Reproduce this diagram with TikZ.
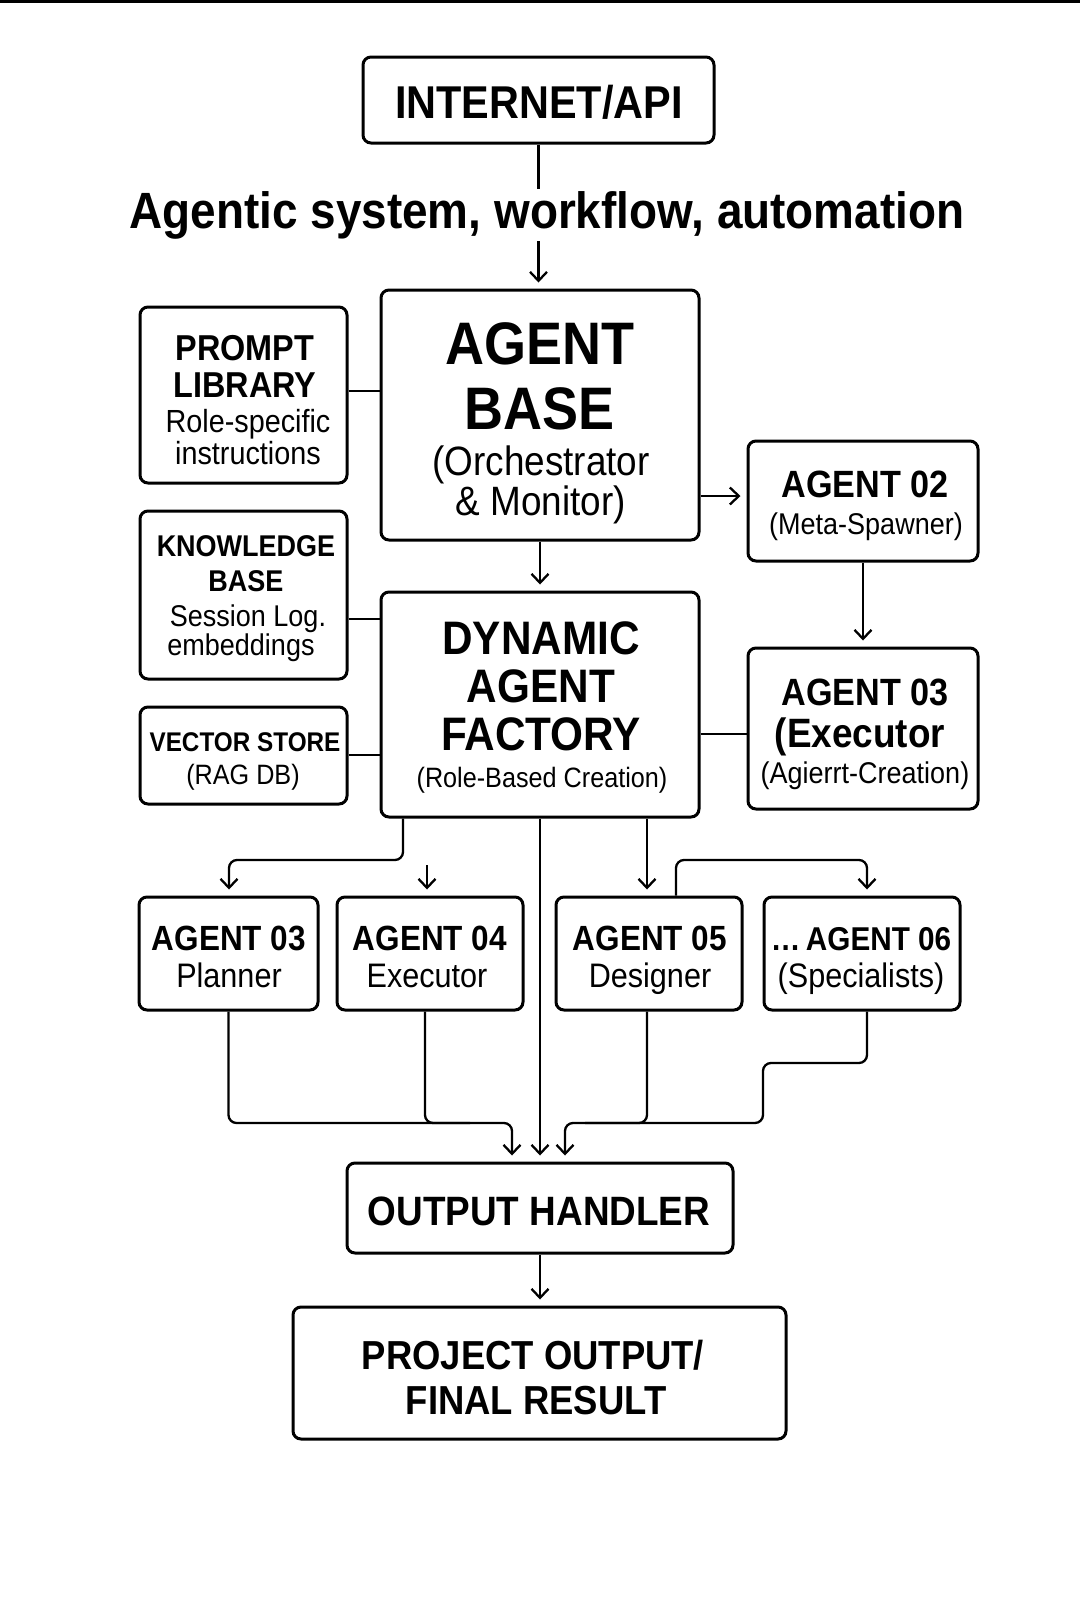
\documentclass[tikz,border=0pt]{standalone}
\usepackage{fontspec}
\setmainfont{Liberation Sans}[FakeStretch=0.9]
\usetikzlibrary{arrows.meta}

\tikzset{
  box/.style={draw, line width=3pt, rounded corners=8pt, inner sep=0pt},
  conn/.style={line width=2.3pt, rounded corners=8pt},
  arr/.style={conn, shorten >=6pt, -{Straight Barb[length=9pt,width=17pt]}},
  txt/.style={anchor=base, inner sep=0pt},
}
\newcommand{\fsz}[1]{\fontsize{#1}{#1}\selectfont}

\begin{document}
\begin{tikzpicture}[x=1pt,y=-1pt]
  \useasboundingbox (0,0) rectangle (1080,1610);
  \fill (0,0) rectangle (1080,3);

  % boxes
  \node[box, minimum width=351pt, minimum height=86pt] (inet) at (538.5,100) {};
  \node[box, minimum width=318pt, minimum height=250pt] (base) at (540,415) {};
  \node[box, minimum width=207pt, minimum height=176pt] (prompt) at (243.5,395) {};
  \node[box, minimum width=207pt, minimum height=168pt] (know) at (243.5,595) {};
  \node[box, minimum width=207pt, minimum height=97pt] (vec) at (243.5,755.5) {};
  \node[box, minimum width=318pt, minimum height=225pt] (fact) at (540,704.5) {};
  \node[box, minimum width=230pt, minimum height=120pt] (ag02) at (863,501) {};
  \node[box, minimum width=230pt, minimum height=161pt] (ag03) at (863,728.5) {};
  \node[box, minimum width=386pt, minimum height=90pt] (out) at (540,1208) {};
  \node[box, minimum width=493pt, minimum height=132pt] (proj) at (539.5,1373) {};

  \foreach \n/\x/\w/\xa/\xb/\ta/\tb in {
      plan/228.5/179/229/229/AGENT 03/Planner,
      exec/430/186/430/427/AGENT 04/Executor,
      des/649/186/650/650/AGENT 05/Designer,
      spec/862/196/861/861/{\fsz{33}\textellipsis\,AGENT 06}/(Specialists)}
  {
    \node[box, minimum width=\w pt, minimum height=113pt] (\n) at (\x,953.5) {};
    \node[txt, font=\bfseries\fsz{35}] (\n-a) at (\xa,950) {\ta};
    \node[txt, font=\fsz{34}] (\n-b) at (\xb,987) {\tb};
  }

  % texts
  \node[txt, font=\bfseries\fsz{46}] (inet-t) at (539,118) {INTERNET/API};

  \node[txt, font=\bfseries\fsz{60}] (base-a) at (540,364) {AGENT};
  \node[txt, font=\bfseries\fsz{60}] (base-b) at (540,429) {BASE};
  \node[txt, font=\fsz{41}] (base-c) at (541,475) {(Orchestrator};
  \node[txt, font=\fsz{41}] (base-d) at (541,515) {\& Monitor)};

  \node[txt, font=\bfseries\fsz{36}] (prompt-a) at (245,360) {PROMPT};
  \node[txt, font=\bfseries\fsz{36}] (prompt-b) at (245,397) {LIBRARY};
  \node[txt, font=\fsz{32}] (prompt-c) at (248,432) {Role-specific};
  \node[txt, font=\fsz{32}] (prompt-d) at (248,464) {instructions};

  \node[txt, font=\bfseries\fsz{30}] (know-a) at (246,556) {KNOWLEDGE};
  \node[txt, font=\bfseries\fsz{30}] (know-b) at (246,591) {BASE};
  \node[txt, font=\fsz{30}] (know-c) at (248,626) {Session Log.};
  \node[txt, font=\fsz{30}] (know-d) at (241,655) {embeddings};

  \node[txt, font=\bfseries\fsz{27}] (vec-a) at (245,751) {VECTOR STORE};
  \node[txt, font=\fsz{28}] (vec-b) at (243,784) {(RAG DB)};

  \node[txt, font=\bfseries\fsz{47}] (fact-a) at (541,654) {DYNAMIC};
  \node[txt, font=\bfseries\fsz{47}] (fact-b) at (541,702) {AGENT};
  \node[txt, font=\bfseries\fsz{47}] (fact-c) at (541,750) {FACTORY};
  \node[txt, font=\fsz{28}] (fact-d) at (542,787) {(Role-Based Creation)};

  \node[txt, font=\bfseries\fsz{38}] (ag02-a) at (865,497) {AGENT 02};
  \node[txt, font=\fsz{30}] (ag02-b) at (866,534) {(Meta-Spawner)};

  \node[txt, font=\bfseries\fsz{38}] (ag03-a) at (865,705) {AGENT 03};
  \node[txt, font=\bfseries\fsz{41}] (ag03-b) at (860,747) {(Executor};
  \node[txt, font=\fsz{30}] (ag03-c) at (865,783) {(Agierrt-Creation)};

  \node[txt, font=\bfseries\fsz{41}] (out-t) at (539,1225) {OUTPUT HANDLER};
  \node[txt, font=\bfseries\fsz{40.5}] (proj-a) at (533,1369) {PROJECT OUTPUT/};
  \node[txt, font=\bfseries\fsz{40.5}] (proj-b) at (536,1414) {FINAL RESULT};

  % connectors
  \draw[arr] (inet.south) -- (inet.south |- base.north);
  \draw[conn] (prompt.east |- 0,391) -- (base.west |- 0,391);
  \draw[conn] (know.east |- 0,619) -- (fact.west |- 0,619);
  \draw[conn] (vec.east |- 0,755) -- (fact.west |- 0,755);
  \draw[arr] (base.east |- 0,496) -- (ag02.west |- 0,496);
  \draw[arr] (base.south) -- (fact.north);
  \draw[arr] (ag02.south) -- (ag03.north);
  \draw[conn] (fact.east |- 0,734) -- (ag03.west |- 0,734);

  \draw[arr] (fact.south -| 403,0) -- (403,860) -- (229,860) -- (plan.north -| 229,0);
  \coordinate (e4) at (427,865);
  \draw[arr] (e4) -- (e4 |- exec.north);
  \draw[arr] (fact.south -| 647,0) -- (des.north -| 647,0);
  \draw[arr] (des.north -| 676,0) -- (676,860) -- (867,860) -- (spec.north -| 867,0);
  \draw[arr] (fact.south) -- (out.north);

  \draw[arr] (plan.south) -- (228.5,1123) -- (512,1123) -- (out.north -| 512,0);
  \draw[conn] (exec.south -| 425,0) -- (425,1123) -- (470,1123);
  \draw[arr] (des.south -| 647,0) -- (647,1123) -- (565,1123) -- (out.north -| 565,0);
  \draw[conn] (spec.south -| 867,0) -- (867,1063) -- (763,1063) -- (763,1123) -- (585,1123);
  \draw[arr] (out.south) -- (proj.north -| out.south);

  \node[txt, font=\bfseries\fsz{51}, fill=white, inner sep=2pt] (title) at (547,228)
    {Agentic system, workflow, automation};
\end{tikzpicture}
\end{document}
